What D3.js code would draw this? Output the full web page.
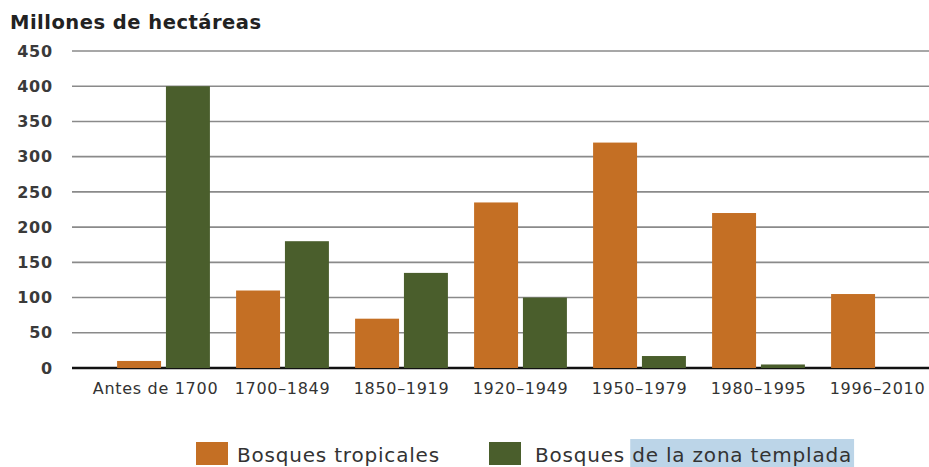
<!DOCTYPE html>
<meta charset="utf-8">
<html>
<head>
  <title>Millones de hectáreas</title>
  <style>
    body { margin: 0; background: #fff; }
    text { font-family: "DejaVu Sans", sans-serif; }
  </style>
</head>
<body>
<script src="https://d3js.org/d3.v7.min.js"></script>
<script>

// data
var periods = ["Antes de 1700", "1700–1849", "1850–1919", "1920–1949", "1950–1979", "1980–1995", "1996–2010"];
var tropical = [10, 110, 70, 235, 320, 220, 105];
var temperate = [400, 180, 135, 100, 17, 5, 0];
var yTicks = [0, 50, 100, 150, 200, 250, 300, 350, 400, 450];
var seriesNames = ["Bosques tropicales", "Bosques de la zona templada"];

var width = 929, height = 467;
var orange = "#c46f24", green = "#4a5e2c";

var svg = d3.select("body").append("svg")
    .attr("width", width)
    .attr("height", height);

var y = d3.scaleLinear()
    .domain([0, 450])
    .range([368, 51]);

var x = d3.scaleBand()
    .domain(periods)
    .range([104, 937])
    .paddingInner(0.22)
    .paddingOuter(0.11);

var x1 = d3.scaleBand()
    .domain(["trop", "temp"])
    .range([0, x.bandwidth()])
    .paddingInner(0.1);

// title
svg.append("text")
    .attr("x", 10)
    .attr("y", 29)
    .style("font-size", "19.5px")
    .style("font-weight", "700")
    .style("letter-spacing", "0.5px")
    .style("fill", "#222")
    .text("Millones de hectáreas");

// gridlines
svg.append("g")
  .selectAll("line")
    .data(yTicks)
  .enter().append("line")
    .attr("x1", 72)
    .attr("x2", width)
    .attr("y1", function(d){ return y(d); })
    .attr("y2", function(d){ return y(d); })
    .style("stroke", function(d){ return d == 0 ? "#111" : "#8a8a8a"; })
    .style("stroke-width", function(d){ return d == 0 ? 2.5 : 1.6; });

// y labels
var yAxis = d3.axisLeft(y).tickValues(yTicks).tickSize(0).tickPadding(0);
var ya = svg.append("g")
    .attr("transform", "translate(53,0)")
    .call(yAxis);
ya.select(".domain").remove();
ya.selectAll("text")
    .style("font-family", "'DejaVu Sans', sans-serif")
    .style("font-size", "16px")
    .style("font-weight", "700")
    .style("letter-spacing", "0.8px")
    .style("fill", "#3a3a3a");

// bars
var groups = svg.append("g")
  .selectAll("g")
    .data(periods)
  .enter().append("g")
    .attr("transform", function(d){ return "translate(" + x(d) + ",0)"; });

groups.append("rect")
    .attr("x", x1("trop"))
    .attr("width", x1.bandwidth())
    .attr("y", function(d, i){ return y(tropical[i]); })
    .attr("height", function(d, i){ return y(0) - y(tropical[i]); })
    .style("fill", orange);

groups.append("rect")
    .attr("x", x1("temp"))
    .attr("width", x1.bandwidth())
    .attr("y", function(d, i){ return y(temperate[i]); })
    .attr("height", function(d, i){ return y(0) - y(temperate[i]); })
    .style("fill", green);

// x labels
var xAxis = d3.axisBottom(x).tickSize(0).tickPadding(0);
var xa = svg.append("g")
    .attr("transform", "translate(0,381)")
    .call(xAxis);
xa.select(".domain").remove();
xa.selectAll("text")
    .attr("dy", "0.8em")
    .attr("dx", function(d, i){ return i == 0 ? -8 : 0; })
    .style("font-family", "'DejaVu Sans', sans-serif")
    .style("font-size", "16px")
    .style("letter-spacing", "0.7px")
    .style("fill", "#333");

// legend
var legend = svg.append("g");

legend.append("rect")
    .attr("x", 196).attr("y", 442)
    .attr("width", 32).attr("height", 23)
    .style("fill", orange);
legend.append("text")
    .attr("x", 237).attr("y", 462)
    .style("font-size", "20px")
    .style("letter-spacing", "0.8px")
    .style("fill", "#333")
    .text(seriesNames[0]);

legend.append("rect")
    .attr("x", 489).attr("y", 442)
    .attr("width", 32).attr("height", 23)
    .style("fill", green);

// selection highlight behind "de la zona templada"
var hl = legend.append("rect")
    .attr("y", 439)
    .attr("height", 28)
    .style("fill", "#bcd5e8");

var t2 = legend.append("text")
    .attr("x", 535).attr("y", 462)
    .style("font-size", "20px")
    .style("letter-spacing", "0.8px")
    .style("fill", "#333")
    .text(seriesNames[1]);

var cut = seriesNames[1].indexOf("de ");
var node = t2.node();
var pre = node.getSubStringLength(0, cut);
var full = node.getComputedTextLength();
hl.attr("x", 535 + pre - 2).attr("width", full - pre + 4);

</script>
</body>
</html>
